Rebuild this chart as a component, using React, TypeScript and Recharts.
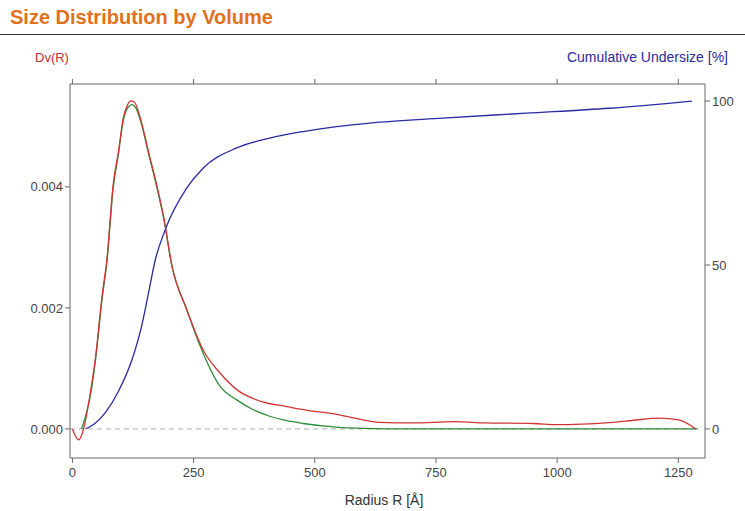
import React from "react";
import { ComposedChart, Line, XAxis, YAxis, ReferenceLine } from "recharts";

// Dv(R) measured distribution (red)
const dvR = [0, 13, 23, 37, 47, 62, 71, 84, 95, 105, 114, 121, 128, 140, 157, 174, 189, 205, 236, 270, 305, 339, 387, 442, 490, 531, 570, 613, 634, 700, 790, 850, 950, 1000, 1052, 1100, 1155, 1210, 1251, 1286];
const dvV = [0, -0.00018, 0, 0.0006, 0.00114, 0.00225, 0.00279, 0.00403, 0.00458, 0.00514, 0.00536, 0.00542, 0.0054, 0.00514, 0.00458, 0.00403, 0.00347, 0.00271, 0.00197, 0.0013, 0.00092, 0.00065, 0.00046, 0.00037, 0.0003, 0.00026, 0.0002, 0.00013, 0.00011, 0.0001, 0.00012, 0.0001, 0.00009, 0.00007, 0.00008, 0.0001, 0.00014, 0.00018, 0.00015, 0];

// Fitted distribution (green)
const fitR = [19, 30, 37, 47, 62, 71, 84, 95, 105, 115, 123, 131, 142, 157, 174, 189, 205, 236, 262, 305, 339, 370, 407, 440, 476, 545, 600, 700, 1290];
const fitV = [0, 0.0003, 0.00055, 0.0011, 0.0022, 0.00275, 0.00398, 0.00455, 0.0051, 0.00532, 0.00536, 0.0053, 0.00505, 0.00455, 0.004, 0.00345, 0.0027, 0.00197, 0.0014, 0.0007, 0.00048, 0.00033, 0.00021, 0.00014, 0.00009, 0.00003, 0.00001, 0, 0];

// Cumulative undersize (blue)
const cumR = [27, 45, 68, 95, 126, 143, 157, 171, 191, 236, 270, 339, 407, 476, 545, 613, 764, 936, 1107, 1278];
const cumV = [0, 1.5, 5, 11.5, 22.5, 31.5, 41.5, 51.6, 60.6, 73.5, 79.6, 85.7, 88.7, 90.7, 92.2, 93.3, 94.8, 96.3, 97.8, 100];

const xTicks = [0, 250, 500, 750, 1000, 1250];
const leftTicks = [0, 0.002, 0.004];
const rightTicks = [0, 50, 100];

const dvData = dvR.map((r, i) => ({ r, v: dvV[i] }));
const fitData = fitR.map((r, i) => ({ r, v: fitV[i] }));
const cumData = cumR.map((r, i) => ({ r, v: cumV[i] }));

const FONT = '"Liberation Sans", Arial, sans-serif';
const AXIS = "#666";
const TICK = { fill: "#444", fontSize: 13, fontFamily: FONT };

export default function App() {
  return (
    <div
      style={{
        position: "absolute",
        left: 0,
        top: 0,
        width: 745,
        height: 511,
        background: "#fff",
        fontFamily: FONT,
        overflow: "hidden",
      }}
    >
      <div
        style={{
          position: "absolute",
          left: 10,
          top: 6,
          fontSize: 20,
          fontWeight: "bold",
          color: "#e2711d",
          whiteSpace: "nowrap",
        }}
      >
        Size Distribution by Volume
      </div>
      <div
        style={{
          position: "absolute",
          left: 0,
          top: 34,
          width: 745,
          height: 0,
          borderTop: "1.5px solid #333",
        }}
      />
      <div
        style={{
          position: "absolute",
          left: 35,
          top: 50,
          fontSize: 13,
          color: "#b83030",
          whiteSpace: "nowrap",
        }}
      >
        Dv(R)
      </div>
      <div
        style={{
          position: "absolute",
          right: 17,
          top: 49,
          fontSize: 14,
          color: "#2b2b9c",
          whiteSpace: "nowrap",
        }}
      >
        Cumulative Undersize [%]
      </div>
      <div
        style={{
          position: "absolute",
          left: 384,
          top: 492,
          transform: "translateX(-50%)",
          fontSize: 14,
          color: "#333",
          whiteSpace: "nowrap",
        }}
      >
        Radius R [Å]
      </div>
      <div style={{ position: "absolute", left: 0, top: 0 }}>
        <ComposedChart
          width={745}
          height={511}
          margin={{ top: 74, right: 0, bottom: 23, left: 0 }}
        >
          <XAxis
            xAxisId="bottom"
            dataKey="r"
            type="number"
            domain={[-5, 1305]}
            ticks={xTicks}
            allowDataOverflow
            height={30}
            stroke={AXIS}
            tickSize={5}
            tickMargin={5}
            tick={TICK}
          />
          <XAxis
            xAxisId="top"
            orientation="top"
            dataKey="r"
            type="number"
            domain={[-5, 1305]}
            ticks={xTicks}
            allowDataOverflow
            height={10}
            stroke={AXIS}
            tickSize={5}
            tick={() => <g />}
          />
          <YAxis
            yAxisId="left"
            type="number"
            domain={[-0.00048, 0.0057]}
            ticks={leftTicks}
            allowDataOverflow
            width={70}
            stroke={AXIS}
            tickSize={5}
            tick={TICK}
            tickFormatter={(v: number) => v.toFixed(3)}
          />
          <YAxis
            yAxisId="right"
            orientation="right"
            type="number"
            domain={[-8.85, 105.2]}
            ticks={rightTicks}
            allowDataOverflow
            width={40}
            stroke={AXIS}
            tickSize={5}
            tick={TICK}
          />
          <ReferenceLine
            xAxisId="bottom"
            yAxisId="left"
            segment={[
              { x: -5, y: 0 },
              { x: 1290, y: 0 },
            ]}
            stroke="#aaa"
            strokeDasharray="5 4"
          />
          <Line
            data={fitData}
            dataKey="v"
            xAxisId="bottom"
            yAxisId="left"
            type="monotone"
            stroke="#2e8b3a"
            strokeWidth={1.3}
            dot={false}
            isAnimationActive={false}
          />
          <Line
            data={cumData}
            dataKey="v"
            xAxisId="bottom"
            yAxisId="right"
            type="monotone"
            stroke="#2a2aa0"
            strokeWidth={1.3}
            dot={false}
            isAnimationActive={false}
          />
          <Line
            data={dvData}
            dataKey="v"
            xAxisId="bottom"
            yAxisId="left"
            type="monotone"
            stroke="#d03535"
            strokeWidth={1.3}
            dot={false}
            isAnimationActive={false}
          />
        </ComposedChart>
      </div>
    </div>
  );
}
